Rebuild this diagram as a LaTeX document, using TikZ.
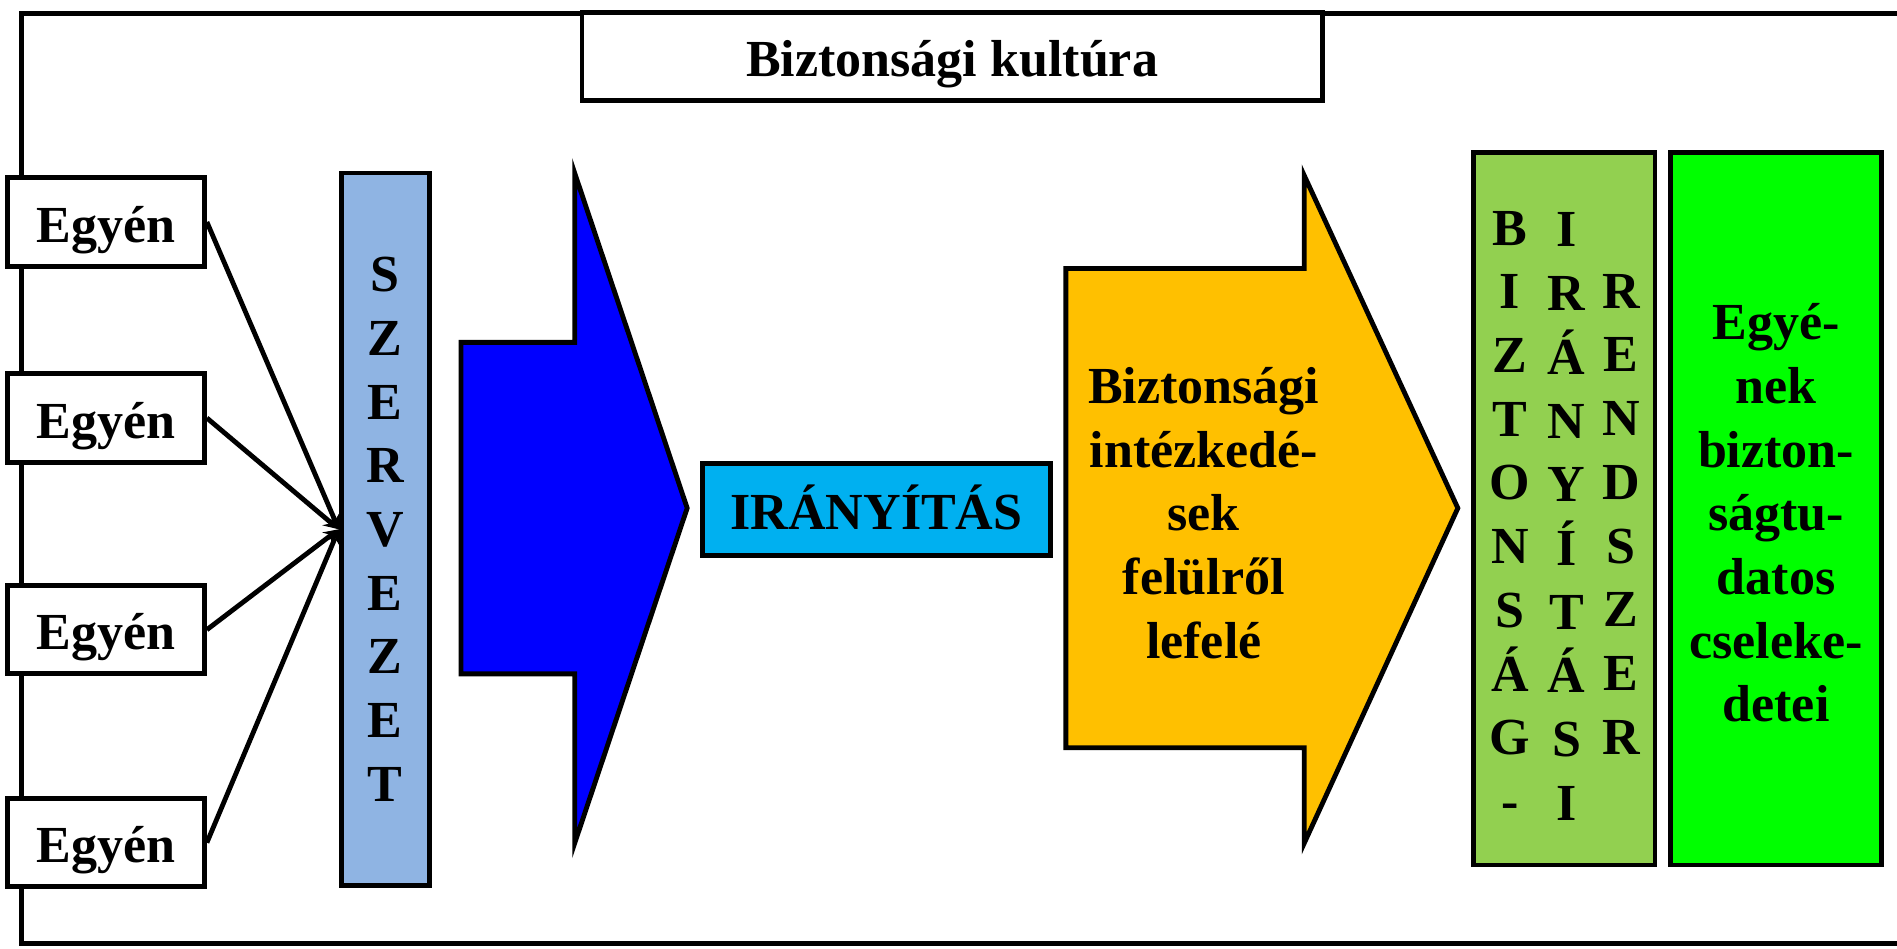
\documentclass[tikz,border=0pt]{standalone}
\usepackage{fontspec}
\setmainfont{Liberation Serif}
\newlength{\du}
\setlength{\du}{15\unitlength}
\definecolor{szervezetcolor}{rgb}{0.560000, 0.705000, 0.890000}
\definecolor{bluearrowcolor}{rgb}{0.000000, 0.000000, 1.000000}
\definecolor{iranyitascolor}{rgb}{0.000000, 0.690000, 0.941000}
\definecolor{orangearrowcolor}{rgb}{1.000000, 0.753000, 0.000000}
\definecolor{rendszercolor}{rgb}{0.573000, 0.816000, 0.314000}
\definecolor{cselekvescolor}{rgb}{0.000000, 1.000000, 0.000000}
\tikzset{
  boxline/.style={draw=black, line width=0.200000\du, line join=miter},
  labeltext/.style={font=\bfseries\fontsize{32.25}{39.5}\selectfont, text=black, align=center, inner sep=0pt},
  captext/.style={labeltext, text height=25pt, text depth=0pt},
  egyenbox/.style={boxline, captext, fill=white, minimum width=8.150000\du, minimum height=3.650000\du},
  tallbox/.style={boxline, labeltext, minimum height=29.450000\du},
  feedline/.style={line width=0.200000\du, -stealth}
}

\begin{document}
\begin{tikzpicture}
\pgftransformxscale{1.000000}
\pgftransformyscale{-1.000000}
\useasboundingbox (0.000000\du,0.000000\du) rectangle (78.400000\du,39.200000\du);
% outer frame, open to the right
\draw[boxline] (80.000000\du,0.550000\du)--(0.900000\du,0.550000\du)--(0.900000\du,39.000000\du)--(80.000000\du,39.000000\du);
\node[boxline, captext, fill=white, minimum width=30.600000\du, minimum height=3.650000\du] (kultura) at (39.350000\du,2.325000\du){Biztonsági kultúra};
% egyének
\node[egyenbox] (egyen1) at (4.375000\du,9.175000\du){Egyén};
\node[egyenbox] (egyen2) at (4.375000\du,17.275000\du){Egyén};
\node[egyenbox] (egyen3) at (4.375000\du,26.025000\du){Egyén};
\node[egyenbox] (egyen4) at (4.375000\du,34.825000\du){Egyén};
\node[tallbox, fill=szervezetcolor, minimum width=3.650000\du] (szervezet) at (15.925000\du,21.875000\du){S\\Z\\E\\R\\V\\E\\Z\\E\\T};
\draw[feedline] (egyen1.east)--(szervezet.west);
\draw[feedline] (egyen2.east)--(szervezet.west);
\draw[feedline] (egyen3.east)--(szervezet.west);
\draw[feedline] (egyen4.east)--(szervezet.west);
% blue arrow
\filldraw[boxline, fill=bluearrowcolor] (19.050000\du,14.150000\du)--(23.750000\du,14.150000\du)--(23.750000\du,7.150000\du)--(28.400000\du,21.000000\du)--(23.750000\du,34.850000\du)--(23.750000\du,27.850000\du)--(19.050000\du,27.850000\du)--cycle;
\node[boxline, captext, fill=iranyitascolor, minimum width=14.350000\du, minimum height=3.800000\du] (iranyitas) at (36.225000\du,21.050000\du){IRÁNYÍTÁS};
% orange arrow
\filldraw[boxline, fill=orangearrowcolor] (44.050000\du,11.100000\du)--(53.900000\du,11.100000\du)--(53.900000\du,7.250000\du)--(60.250000\du,21.000000\du)--(53.900000\du,34.850000\du)--(53.900000\du,30.900000\du)--(44.050000\du,30.900000\du)--cycle;
\node[labeltext] (intezkedes) at (49.750000\du,21.200000\du){Biztonsági\\intézkedé-\\sek\\felülről\\lefelé};
% right hand boxes
\node[tallbox, fill=rendszercolor, minimum width=7.500000\du] (rendszer) at (64.650000\du,21.025000\du){};
\node[labeltext] (col1) at (62.400000\du,21.275000\du){B\\I\\Z\\T\\O\\N\\S\\Á\\G\\-};
\node[labeltext] (col2) at (64.750000\du,21.350000\du){I\\R\\Á\\N\\Y\\Í\\T\\Á\\S\\I};
\node[labeltext] (col3) at (67.000000\du,21.250000\du){R\\E\\N\\D\\S\\Z\\E\\R};
\node[tallbox, fill=cselekvescolor, minimum width=8.700000\du] (cselekves) at (73.400000\du,21.025000\du){};
\node[labeltext] (cselekvestext) at (73.400000\du,21.200000\du){Egyé-\\nek\\bizton-\\ságtu-\\datos\\cseleke-\\detei};
\end{tikzpicture}
\end{document}
